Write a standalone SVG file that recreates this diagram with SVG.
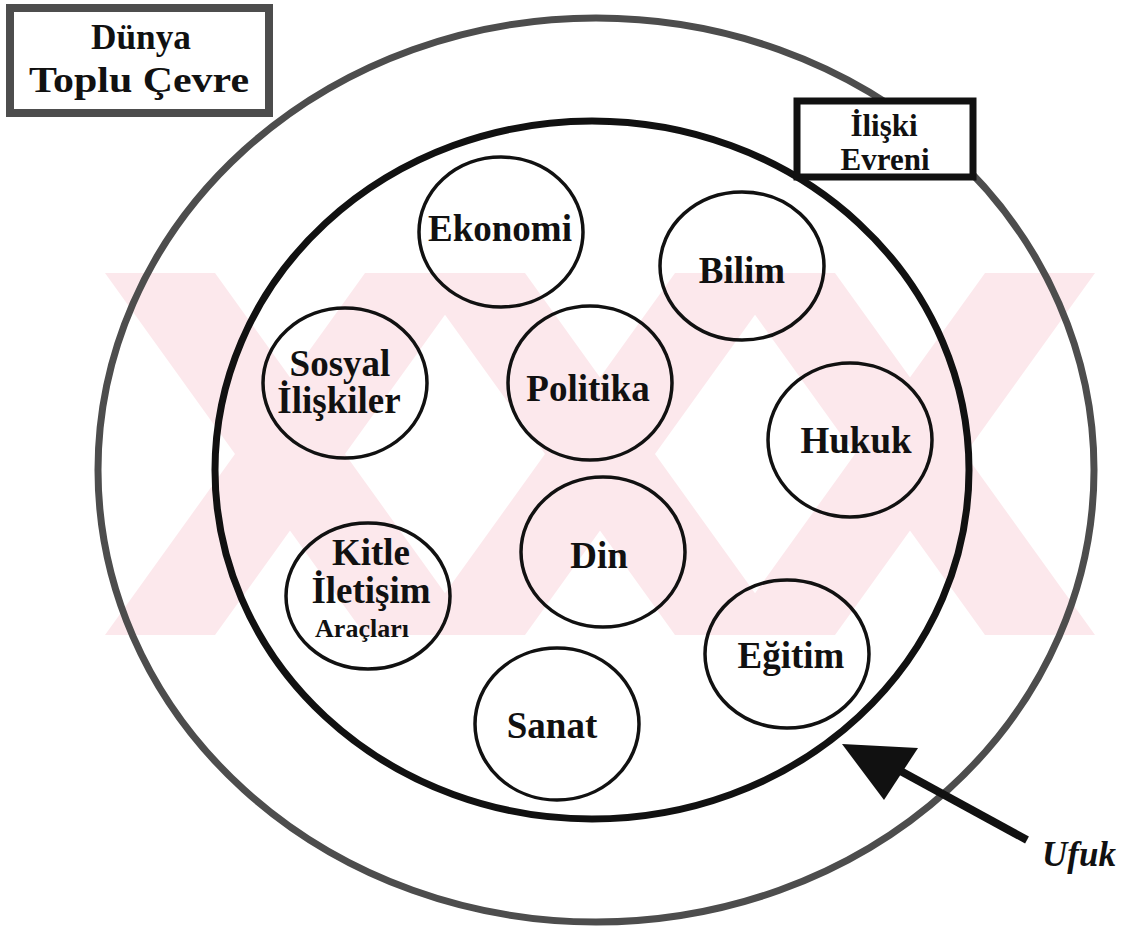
<svg xmlns="http://www.w3.org/2000/svg" width="1125" height="935" viewBox="0 0 1125 935">
<defs>
<style>
.node{fill:none;stroke:#111;stroke-width:3.5}
.lbl{font-family:"Liberation Serif",serif;font-weight:bold;font-size:37px;fill:#111;text-anchor:middle}
.small{font-size:26px}
.box{font-family:"Liberation Serif",serif;font-weight:bold;font-size:36px;fill:#111;text-anchor:middle}
.wm{fill:#fce8ec}
.stip{stroke:#4d4d4d}
</style>
</defs>
<rect width="1125" height="935" fill="#ffffff"/>
<g id="watermark">
<polygon class="wm" points="105,273 215,273 475,635 365,635"/>
<polygon class="wm" points="365,273 475,273 215,635 105,635"/>
<polygon class="wm" points="415,273 525,273 785,635 675,635"/>
<polygon class="wm" points="675,273 785,273 525,635 415,635"/>
<polygon class="wm" points="725,273 835,273 1095,635 985,635"/>
<polygon class="wm" points="985,273 1095,273 835,635 725,635"/>
</g>
<g id="dunya-ellipse">
<ellipse class="stip" cx="596" cy="470" rx="498" ry="452" fill="none" stroke-width="7"/>
</g>
<g id="iliski-ellipse">
<ellipse cx="592" cy="470" rx="377" ry="349" fill="none" stroke="#111" stroke-width="7"/>
</g>
<g id="dunya-box">
<rect class="stip" x="10" y="8" width="259" height="105" fill="#ffffff" stroke-width="8"/>
<text class="box" x="141" y="49" textLength="100" lengthAdjust="spacingAndGlyphs">Dünya</text>
<text class="box" x="139" y="92" textLength="220" lengthAdjust="spacingAndGlyphs">Toplu Çevre</text>
</g>
<g id="iliski-box">
<rect x="797" y="101" width="176" height="76" fill="#ffffff" stroke="#111" stroke-width="7"/>
<text class="box" x="884" y="136" style="font-size:31px">İlişki</text>
<text class="box" x="885" y="170" style="font-size:31px">Evreni</text>
</g>
<g id="ekonomi"><ellipse class="node" cx="501" cy="232" rx="82" ry="75"/><text class="lbl" x="500" y="241">Ekonomi</text></g>
<g id="bilim"><ellipse class="node" cx="742" cy="266" rx="82" ry="74"/><text class="lbl" x="742" y="283">Bilim</text></g>
<g id="sosyal"><ellipse class="node" cx="345" cy="383" rx="82" ry="75"/><text class="lbl" x="340" y="376">Sosyal</text><text class="lbl" x="339" y="413">İlişkiler</text></g>
<g id="politika"><ellipse class="node" cx="590" cy="383" rx="82" ry="77"/><text class="lbl" x="588" y="401">Politika</text></g>
<g id="hukuk"><ellipse class="node" cx="850" cy="440" rx="82" ry="77"/><text class="lbl" x="856" y="453">Hukuk</text></g>
<g id="din"><ellipse class="node" cx="603" cy="552" rx="82" ry="75"/><text class="lbl" x="599" y="568">Din</text></g>
<g id="kitle"><ellipse class="node" cx="368" cy="596" rx="82" ry="73"/><text class="lbl" x="371" y="565">Kitle</text><text class="lbl" x="371" y="603">İletişim</text><text class="lbl small" x="362" y="637">Araçları</text></g>
<g id="egitim"><ellipse class="node" cx="787" cy="654" rx="82" ry="74"/><text class="lbl" x="791" y="668">Eğitim</text></g>
<g id="sanat"><ellipse class="node" cx="557" cy="724" rx="82" ry="76"/><text class="lbl" x="552" y="738">Sanat</text></g>
<g id="connectors">
<line x1="895" y1="768" x2="1027" y2="840" stroke="#111" stroke-width="8"/>
<polygon points="842,744 918,748 884,800" fill="#111"/>
</g>
<g id="ufuk"><text x="1042" y="866" font-family="Liberation Serif, serif" font-weight="bold" font-style="italic" font-size="35" fill="#111">Ufuk</text></g>
</svg>
